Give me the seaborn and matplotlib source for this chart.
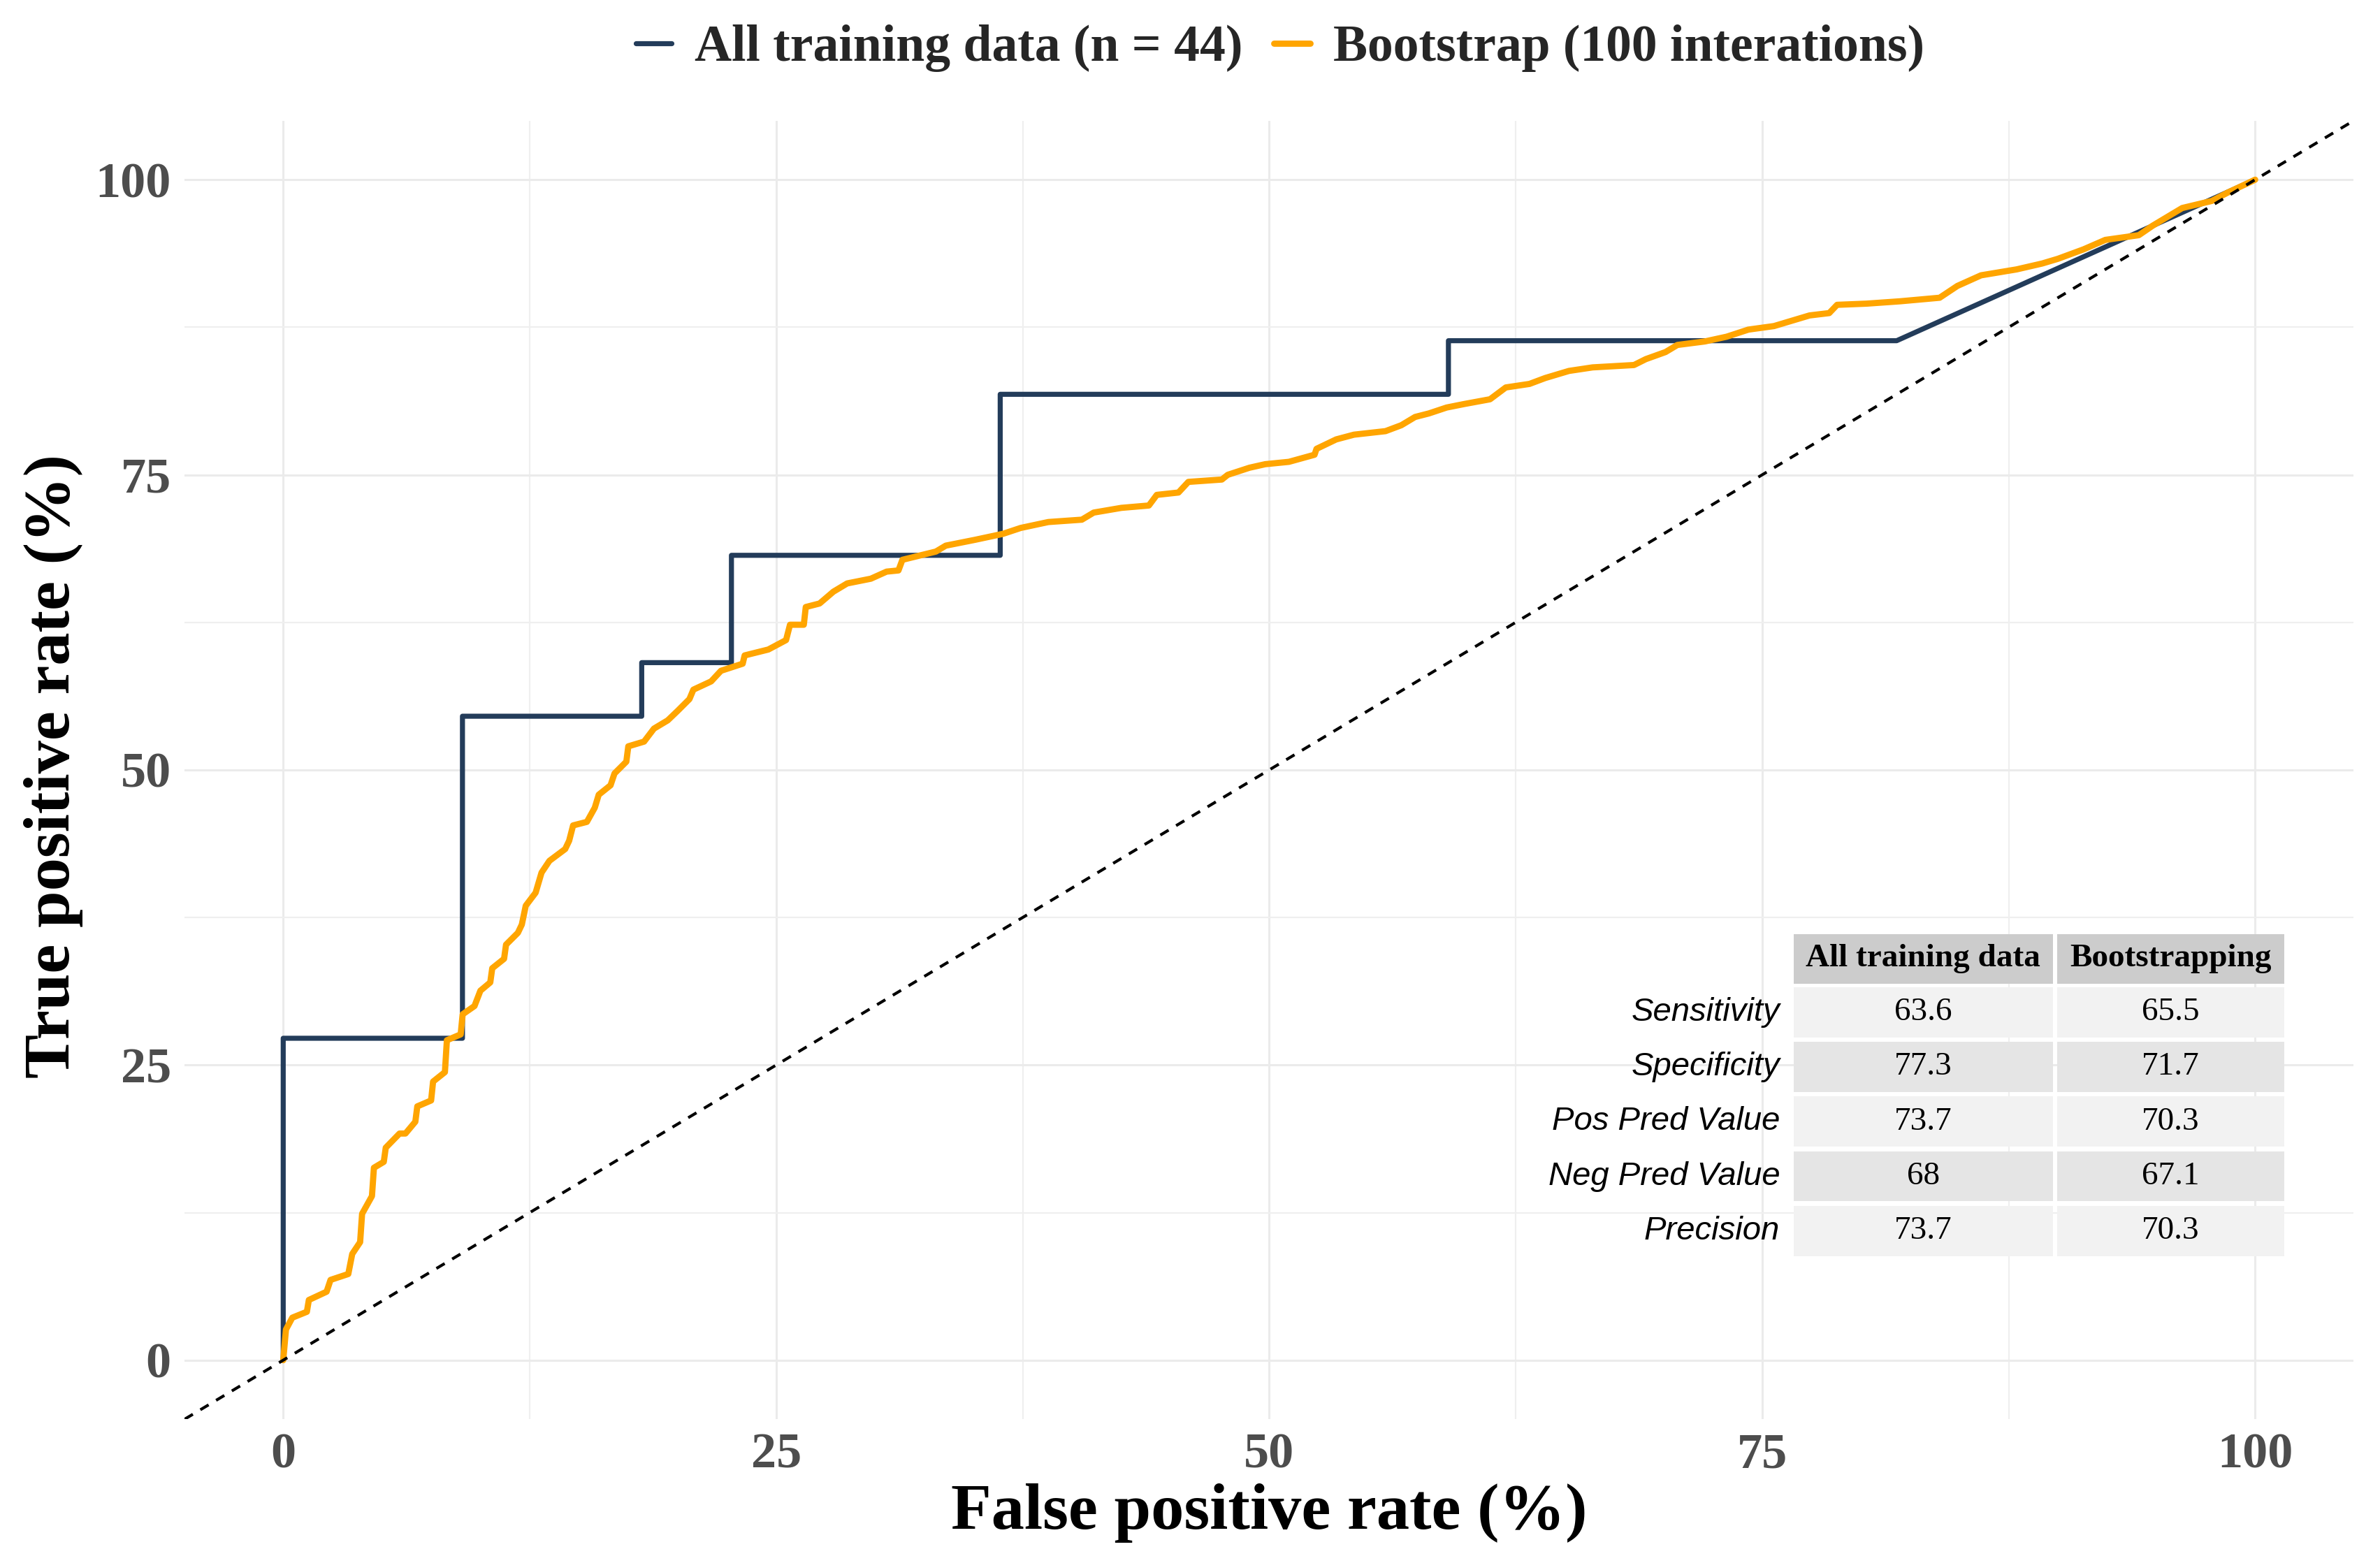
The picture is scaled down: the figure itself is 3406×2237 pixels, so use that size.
import numpy as np
import pandas as pd
import matplotlib
matplotlib.use("Agg")
import matplotlib.pyplot as plt
from matplotlib.patches import Rectangle
from matplotlib.lines import Line2D
import seaborn as sns

# ROC curve, all training data (n = 44) : fpr / tpr in %
train_fpr = [0, 0, 9.09, 9.09, 18.18, 18.18, 22.73, 22.73, 36.36, 36.36,
             59.09, 59.09, 81.82, 100]
train_tpr = [0, 27.27, 27.27, 54.55, 54.55, 59.09, 59.09, 68.18, 68.18, 81.82,
             81.82, 86.36, 86.36, 100]

# ROC curve, bootstrap
boot_fpr = [0, 0.14, 0.46, 1.2, 1.3, 2.2, 2.4, 3.3, 3.5, 3.9, 4.0, 4.5, 4.6, 5.1,
            5.2, 5.9, 6.2, 6.7, 6.8, 7.5, 7.6, 8.2, 8.3, 9.0, 9.1, 9.7, 10.0, 10.5,
            10.6, 11.2, 11.3, 11.9, 12.1, 12.3, 12.8, 13.1, 13.5, 14.3, 14.5, 14.7,
            15.4, 15.8, 16.0, 16.6, 16.8, 17.4, 17.5, 18.3, 18.8, 19.5, 20.0, 20.6,
            20.8, 21.7, 22.2, 23.3, 23.4, 24.6, 25.5, 25.7, 26.4, 26.5, 27.2, 27.9,
            28.6, 29.8, 30.6, 31.2, 31.4, 33.1, 33.6, 35.1, 36.5, 37.4, 38.8, 40.5,
            41.1, 42.5, 43.9, 44.3, 45.4, 45.9, 47.6, 47.9, 49.0, 49.8, 51.0, 52.3,
            52.4, 53.4, 54.3, 55.9, 56.7, 57.4, 58.1, 59.0, 59.9, 61.2, 62.0, 63.2,
            64.0, 65.2, 66.4, 68.5, 69.1, 70.1, 70.7, 72.1, 73.2, 74.3, 75.6, 76.4,
            77.4, 78.4, 78.8, 80.3, 82.0, 84.0, 84.9, 86.1, 87.9, 89.2, 90.0, 91.3,
            92.4, 94.1, 94.8, 96.3, 97.8, 98.6, 100]
boot_tpr = [0, 2.6, 3.6, 4.1, 5.1, 5.8, 6.8, 7.3, 9.0, 10.0, 12.4, 13.9, 16.3, 16.8,
            18.0, 19.2, 19.2, 20.2, 21.5, 22.0, 23.6, 24.4, 27.1, 27.6, 29.3, 30.0,
            31.3, 32.0, 33.2, 34.0, 35.2, 36.2, 36.9, 38.5, 39.6, 41.3, 42.3, 43.3,
            44.0, 45.3, 45.6, 46.8, 47.9, 48.7, 49.7, 50.7, 52.0, 52.4, 53.5, 54.2,
            55.0, 56.0, 56.8, 57.5, 58.4, 59.0, 59.7, 60.2, 61.0, 62.3, 62.3, 63.8,
            64.1, 65.1, 65.8, 66.2, 66.8, 66.9, 67.8, 68.5, 69.0, 69.5, 70.0, 70.5,
            71.0, 71.2, 71.8, 72.2, 72.4, 73.3, 73.5, 74.4, 74.6, 75.0, 75.6, 75.9,
            76.1, 76.7, 77.2, 78.0, 78.4, 78.7, 79.2, 79.9, 80.2, 80.7, 81.0, 81.4,
            82.4, 82.7, 83.2, 83.8, 84.1, 84.3, 84.8, 85.4, 86.0, 86.3, 86.7, 87.3,
            87.6, 88.0, 88.5, 88.7, 89.4, 89.5, 89.7, 90.0, 91.0, 91.9, 92.4, 92.9,
            93.3, 94.1, 94.9, 95.3, 96.1, 97.6, 98.2, 98.9, 100]

# summary table
row_names = ["Sensitivity", "Specificity", "Pos Pred Value", "Neg Pred Value", "Precision"]
col_names = ["All training data", "Bootstrapping"]
all_train = ["63.6", "77.3", "73.7", "68", "73.7"]
bootstrapping = ["65.5", "71.7", "70.3", "67.1", "70.3"]

navy = "#233C5A"
orange = "#FFA500"

sns.set_theme(style="whitegrid")
plt.rcParams['font.family'] = ['Liberation Serif', 'DejaVu Serif']

fig = plt.figure(figsize=(17.03, 11.185), dpi=200)
ax = fig.add_axes([0.07757, 0.0920, 0.9114, 0.8308])
ax.set_facecolor("white")

sns.lineplot(x=train_fpr, y=train_tpr, sort=False, estimator=None, color=navy,
             lw=2.6, ax=ax, label="All training data (n = 44)", zorder=3)
sns.lineplot(x=boot_fpr, y=boot_tpr, sort=False, estimator=None, color=orange,
             lw=3.2, ax=ax, label="Bootstrap (100 interations)", zorder=4)
ax.axline((0, 0), slope=1, color="black", lw=1.5, ls=(0, (3.3, 3.0)), zorder=5)

ax.set_xlim(-5, 105)
ax.set_ylim(-5, 105)
ax.set_xticks([0, 25, 50, 75, 100])
ax.set_yticks([0, 25, 50, 75, 100])
ax.set_xticks([12.5, 37.5, 62.5, 87.5], minor=True)
ax.set_yticks([12.5, 37.5, 62.5, 87.5], minor=True)
ax.grid(which="major", color="#EBEBEB", lw=1.1)
ax.grid(which="minor", color="#EFEFEF", lw=0.8)
for s in ax.spines.values():
    s.set_visible(False)
ax.tick_params(which="both", length=0, pad=7, labelsize=26, labelcolor="#4D4D4D")
for lab in ax.get_xticklabels() + ax.get_yticklabels():
    lab.set_fontweight("bold")

ax.set_xlabel("False positive rate (%)", fontsize=34, fontweight="bold", color="black")
ax.set_ylabel("True positive rate (%)", fontsize=34, fontweight="bold", color="black")
ax.xaxis.set_label_coords(0.5, -0.0724)
ax.xaxis.label.set_va("center")
ax.yaxis.set_label_coords(-0.0605, 0.503)
ax.yaxis.label.set_va("center")

# table
ax.get_legend().remove()
col_x = [(76.6, 89.74), (89.96, 101.47)]
hdr_top, hdr_h = 36.09, 4.2
row_top0, row_h, row_pitch = 31.59, 4.25, 4.63
for (x0, x1), name in zip(col_x, col_names):
    ax.add_patch(Rectangle((x0, hdr_top - hdr_h), x1 - x0, hdr_h, facecolor="#CCCCCC",
                           edgecolor="none", zorder=2))
    ax.text((x0 + x1) / 2, hdr_top - hdr_h / 2, name, ha="center", va="center",
            fontsize=17, fontweight="bold", color="black", zorder=3)
for i, name in enumerate(row_names):
    top = row_top0 - i * row_pitch
    fill = "#F2F2F2" if i % 2 == 0 else "#E5E5E5"
    for (x0, x1), val in zip(col_x, [all_train[i], bootstrapping[i]]):
        ax.add_patch(Rectangle((x0, top - row_h), x1 - x0, row_h, facecolor=fill,
                               edgecolor="none", zorder=2))
        ax.text((x0 + x1) / 2, top - row_h / 2, val, ha="center", va="center",
                fontsize=17, color="black", zorder=3)
    ax.text(75.9, top - row_h / 2, name, ha="right", va="center", fontsize=17,
            style="italic", family="Liberation Sans", color="black", zorder=3)

handles = [Line2D([], [], color=navy, lw=2.6), Line2D([], [], color=orange, lw=3.2)]
fig.legend(handles, ["All training data (n = 44)", "Bootstrap (100 interations)"],
           loc="center", bbox_to_anchor=(0.5378, 0.969), ncol=2, frameon=False,
           handlelength=0.7, handletextpad=0.45, columnspacing=0.6,
           prop={"weight": "bold", "size": 26.5})

fig.savefig("out.png", dpi=200, facecolor="white")
